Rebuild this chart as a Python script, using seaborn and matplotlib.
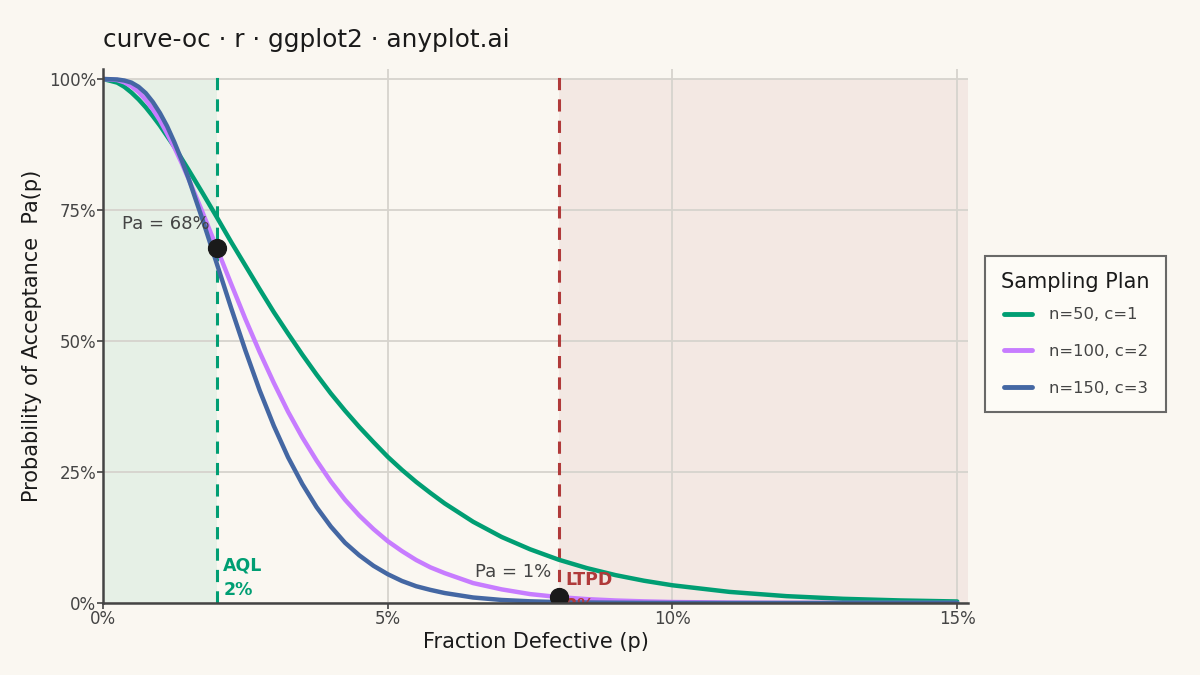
import numpy as np
import pandas as pd
import matplotlib
matplotlib.use("Agg")
import matplotlib.pyplot as plt
import seaborn as sns

# ---- data ----
p_grid = [0.0, 0.0025, 0.00375, 0.005, 0.00625, 0.0075, 0.00875, 0.01, 0.01125,
          0.0125, 0.01375, 0.015, 0.0175, 0.02,
          0.0225, 0.025, 0.0275, 0.03, 0.0325, 0.035, 0.0375, 0.04, 0.0425,
          0.045, 0.0475, 0.05, 0.0525, 0.055, 0.0575, 0.06, 0.065, 0.07,
          0.075, 0.08, 0.085, 0.09, 0.095, 0.10, 0.11, 0.12, 0.13, 0.14, 0.15]
pa_n50_c1 = [1.0, 0.993, 0.985, 0.974, 0.961, 0.946, 0.929, 0.911, 0.891,
             0.871, 0.849, 0.827, 0.782, 0.736,
             0.689, 0.644, 0.599, 0.555, 0.514, 0.474, 0.436, 0.400, 0.367,
             0.336, 0.307, 0.279, 0.254, 0.231, 0.210, 0.190, 0.155, 0.126,
             0.1025, 0.0827, 0.0665, 0.0532, 0.0425, 0.0338, 0.0212, 0.0131, 0.0080, 0.0049, 0.0029]
pa_n100_c2 = [1.0, 0.998, 0.9935, 0.986, 0.975, 0.960, 0.942, 0.921, 0.896,
              0.870, 0.841, 0.810, 0.745, 0.677,
              0.609, 0.542, 0.479, 0.420, 0.365, 0.316, 0.272, 0.232, 0.197,
              0.167, 0.141, 0.118, 0.099, 0.082, 0.068, 0.057, 0.038, 0.026,
              0.017, 0.0113, 0.0074, 0.0048, 0.0031, 0.0019, 0.0008, 0.0003, 0.0001, 0.0, 0.0]
pa_n150_c3 = [1.0, 0.999, 0.997, 0.993, 0.985, 0.973, 0.956, 0.935, 0.910,
              0.880, 0.847, 0.811, 0.731, 0.647,
              0.563, 0.482, 0.406, 0.338, 0.278, 0.227, 0.183, 0.146, 0.115,
              0.091, 0.071, 0.055, 0.042, 0.032, 0.025, 0.019, 0.0105, 0.0058,
              0.0032, 0.0017, 0.0009, 0.0005, 0.0002, 0.0001, 0.0, 0.0, 0.0, 0.0, 0.0]
plan_labels = ["n=50, c=1", "n=100, c=2", "n=150, c=3"]
plan_colors = ["#009E73", "#C77CFF", "#4467A3"]
aql = 0.02
ltpd = 0.08
pa_at_aql = 0.677
pa_at_ltpd = 0.0113
x_ticks = [0.0, 0.05, 0.10, 0.15]
x_tick_labels = ["0%", "5%", "10%", "15%"]
y_ticks = [0.0, 0.25, 0.5, 0.75, 1.0]
y_tick_labels = ["0%", "25%", "50%", "75%", "100%"]

df = pd.concat([
    pd.DataFrame({"p": p_grid, "Pa": vals, "plan": lab})
    for vals, lab in zip([pa_n50_c1, pa_n100_c2, pa_n150_c3], plan_labels)
], ignore_index=True)

BG = "#FAF7F1"
sns.set_theme(style="white")
plt.rcParams["font.family"] = ["DejaVu Sans"]

fig = plt.figure(figsize=(12, 6.75), dpi=100, facecolor=BG)
ax = fig.add_axes([103 / 1200, 1 - 603 / 675, (968 - 103) / 1200, (603 - 69) / 675])
ax.set_facecolor(BG)

# shaded regions
ax.axvspan(0, aql, ymin=0, ymax=1.0 / 1.019, color="#E6F0E6", zorder=0, lw=0)
ax.axvspan(ltpd, 0.1519, ymin=0, ymax=1.0 / 1.019, color="#F3E8E3", zorder=0, lw=0)

# grid
for xt in x_ticks:
    ax.axvline(xt, color="#D6D3CD", lw=1.3, zorder=0.5)
for yt in y_ticks:
    ax.axhline(yt, color="#D6D3CD", lw=1.3, zorder=0.5)

sns.lineplot(data=df, x="p", y="Pa", hue="plan", palette=plan_colors,
             hue_order=plan_labels, linewidth=3.2, ax=ax, zorder=3, legend=True)
for ln in ax.get_lines():
    ln.set_solid_joinstyle("round")
    ln.set_solid_capstyle("round")

# reference lines
ax.axvline(aql, color="#009E73", lw=2.2, ls=(0, (4, 3)), zorder=2)
ax.axvline(ltpd, color="#B03A3A", lw=2.2, ls=(0, (4, 3)), zorder=2)

# markers
ax.scatter([aql, ltpd], [pa_at_aql, pa_at_ltpd], s=165, color="#1A1A1A", zorder=5)

ax.text(0.0188, 0.723, "Pa = 68%", ha="right", va="center", fontsize=13, color="#444444", zorder=4)
ax.text(0.0787, 0.059, "Pa = 1%", ha="right", va="center", fontsize=13, color="#444444", zorder=4)
ax.text(0.0211, 0.0725, "AQL", ha="left", va="center", fontsize=12.5, color="#009E73",
        fontweight="bold", zorder=4)
ax.text(0.0211, 0.024, "2%", ha="left", va="center", fontsize=12.5, color="#009E73",
        fontweight="bold", zorder=4)
ax.text(0.0812, 0.044, "LTPD", ha="left", va="center", fontsize=12.5, color="#B03A3A",
        fontweight="bold", zorder=4)
ax.text(0.0812, 0.012, "8%", ha="left", va="top", fontsize=12.5, color="#B03A3A",
        fontweight="bold", zorder=4, clip_on=True)

ax.set_xlim(0, 0.1519)
ax.set_ylim(0, 1.019)
ax.set_xticks(x_ticks)
ax.set_xticklabels(x_tick_labels)
ax.set_yticks(y_ticks)
ax.set_yticklabels(y_tick_labels)
ax.tick_params(axis="both", labelsize=12, colors="#444444", length=4, width=1.2,
               bottom=True, left=True, pad=1)
for s in ["top", "right"]:
    ax.spines[s].set_visible(False)
for s in ["left", "bottom"]:
    ax.spines[s].set_color("#444444")
    ax.spines[s].set_linewidth(1.8)
    ax.spines[s].set_zorder(6)

ax.set_xlabel("Fraction Defective (p)", fontsize=15, color="#1A1A1A", labelpad=3)
ax.set_ylabel("Probability of Acceptance  Pa(p)", fontsize=15, color="#1A1A1A", labelpad=5)

fig.text(103 / 1200, 1 - 40 / 675, "curve-oc · r · ggplot2 · anyplot.ai", fontsize=17.8,
         color="#1A1A1A", ha="left", va="center")

handles, labels = ax.get_legend_handles_labels()
ax.get_legend().remove()
for h in handles:
    h.set_linewidth(3.5)
leg = fig.legend(handles, labels, title="Sampling Plan", loc="upper left",
                 bbox_to_anchor=(985 / 1200, 1 - 256 / 675), fontsize=11.8,
                 title_fontsize=15, frameon=True, fancybox=False,
                 borderpad=1.0, labelspacing=1.33, handlelength=1.75,
                 handletextpad=1.0, borderaxespad=0)
try:
    leg._legend_box.sep = 11.8 * 1.33 - 5.0
except Exception:
    pass
leg.get_frame().set_facecolor("#FFFDF8")
leg.get_frame().set_edgecolor("#444444")
leg.get_frame().set_linewidth(1.5)
for t in leg.get_texts():
    t.set_color("#444444")
leg.get_title().set_color("#1A1A1A")

fig.savefig("out.png", dpi=100, facecolor=BG)
